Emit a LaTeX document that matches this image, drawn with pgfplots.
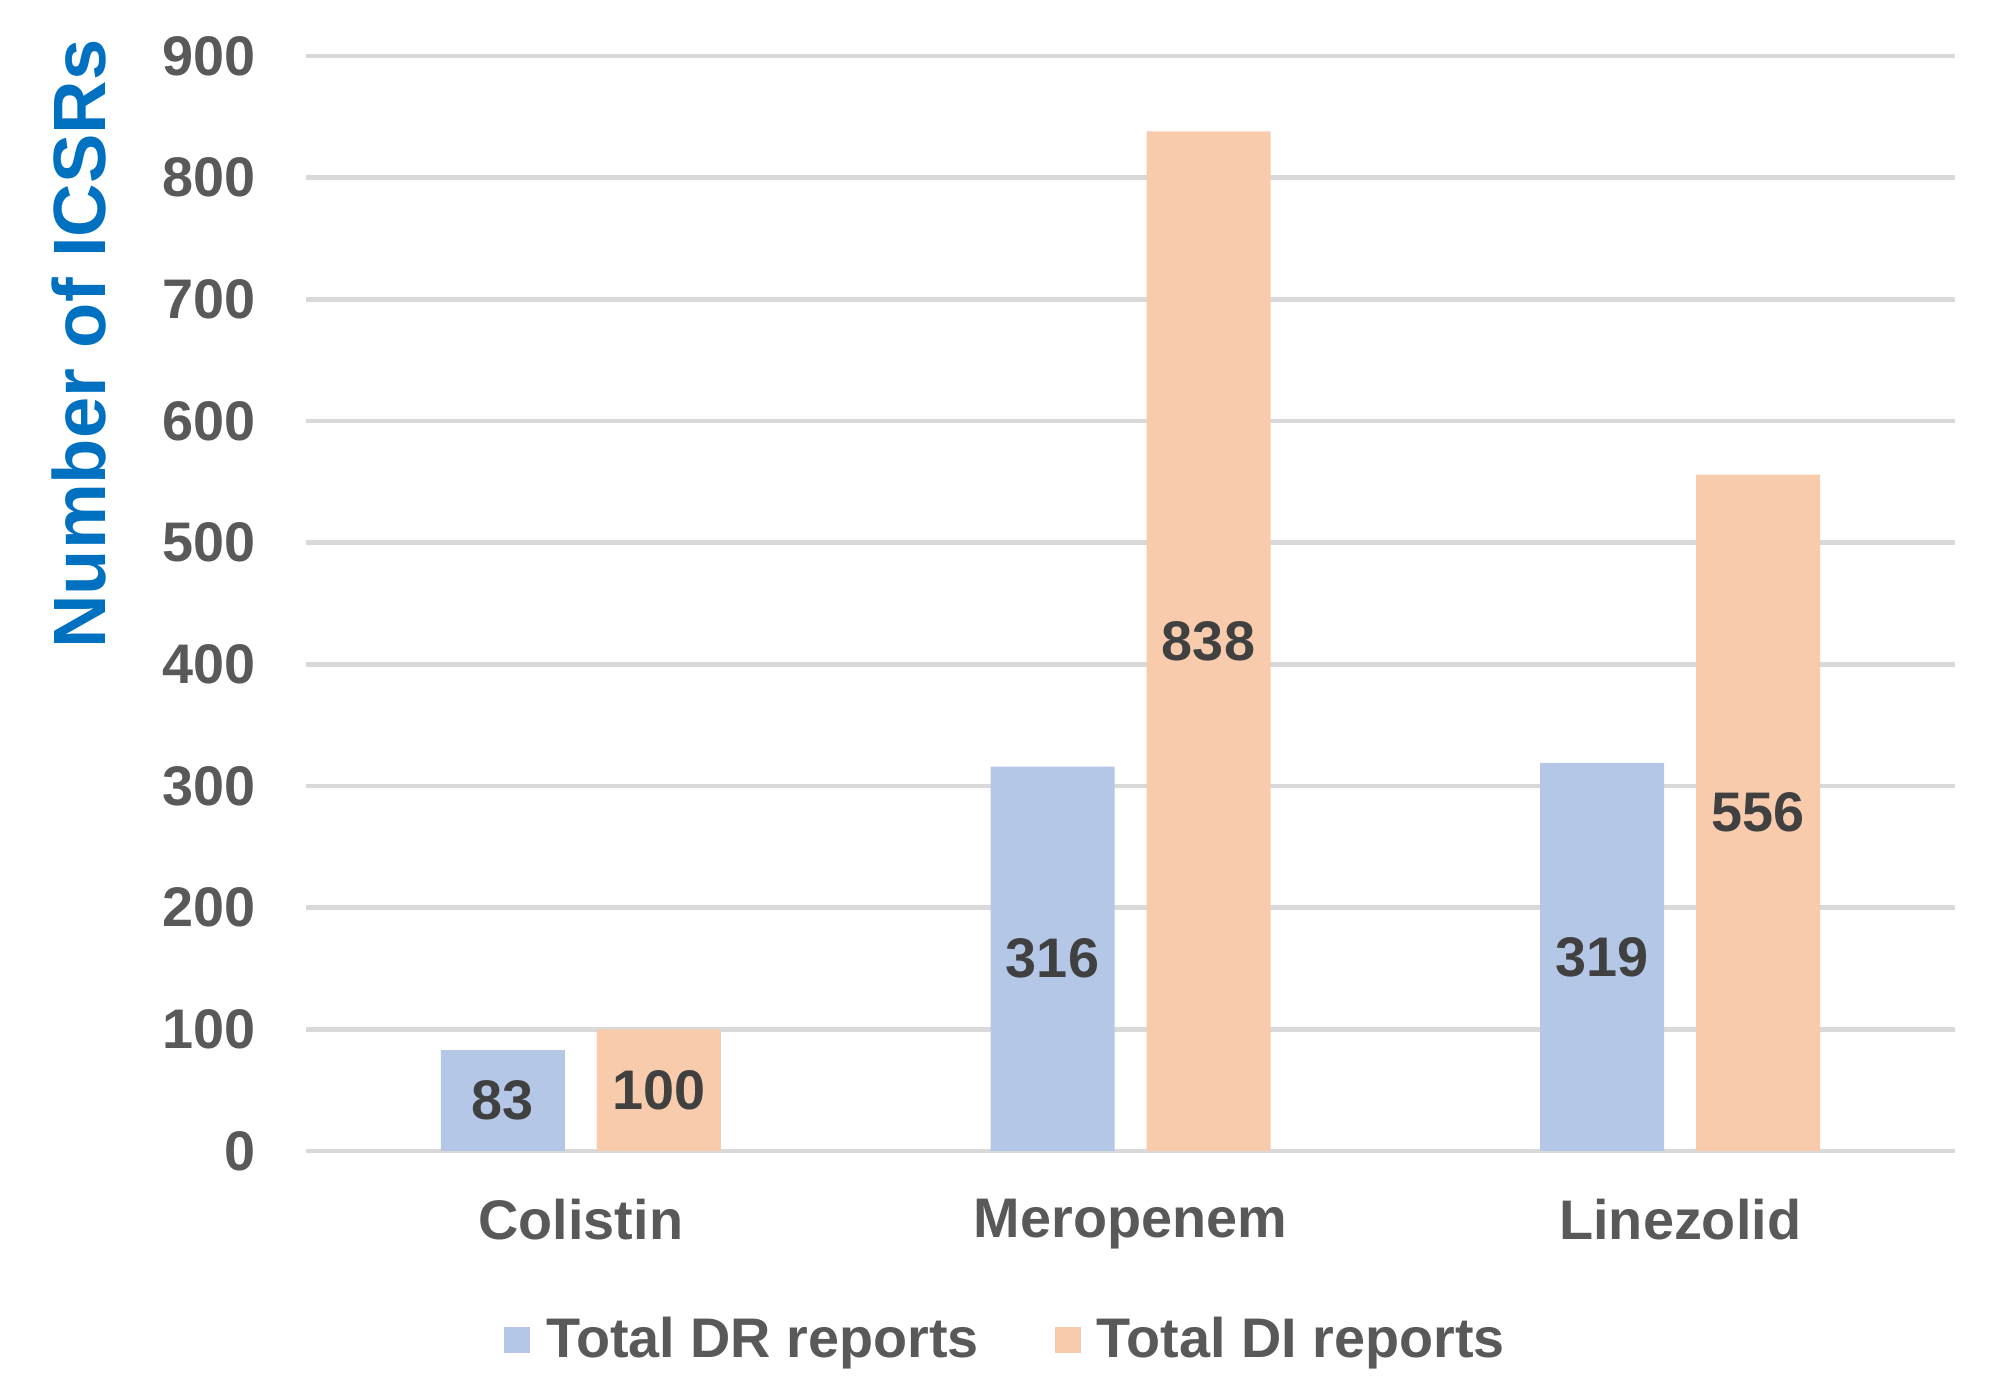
\documentclass[border=0pt]{standalone}
\usepackage{pgfplots}
\pgfplotsset{compat=1.18}
\usepackage{pgfplotstable}
\usepackage{fontspec}
\setmainfont{Liberation Sans}
\definecolor{drc}{HTML}{B4C7E7}
\definecolor{dic}{HTML}{F8CBAD}
\definecolor{tickc}{HTML}{595959}
\definecolor{labc}{HTML}{404040}
\definecolor{gridc}{HTML}{D9D9D9}
\definecolor{ylabc}{HTML}{0070C0}
\pgfplotstableread{
cat dr di
Colistin 83 100
Meropenem 316 838
Linezolid 319 556
}\data
\begin{document}
\begin{tikzpicture}
\useasboundingbox (0,0) rectangle (499.25bp,346.5bp);
\begin{axis}[
  at={(76.5bp,58.75bp)}, anchor=south west,
  scale only axis, width=412.25bp, height=273.75bp,
  xmin=-0.5, xmax=2.5, ymin=0, ymax=900,
  ytick={0,100,...,900},
  xtick={0,1,2}, xticklabels={Colistin,Meropenem,Linezolid},
  axis line style={draw=none},
  major tick length=0pt,
  ymajorgrids, grid style={gridc, line width=1.2bp},
  /pgf/number format/assume math mode=true,
  ticklabel style={font=\fontsize{14}{16}\selectfont\bfseries, text=tickc},
  yticklabel style={xshift=-9bp},
  xticklabel style={yshift=-8.6bp},
  ylabel={Number of ICSRs},
  ylabel style={at={(axis description cs:-0.1378,0.737)}, anchor=center,
    font=\fontsize{18.6}{20}\selectfont\bfseries, text=ylabc},
  legend columns=2,
  legend style={at={(0.4285,-0.1726)}, anchor=center, draw=none,
    font=\fontsize{14}{16}\selectfont\bfseries, text=tickc,
    /tikz/every even column/.append style={column sep=15bp},
    nodes={inner xsep=4bp}},
  legend image code/.code={\fill[#1,draw=none] (0bp,-3.2bp) rectangle (6.4bp,3.2bp);},
  every node near coord/.append style={anchor=center, text=labc,
    font=\fontsize{14}{16}\selectfont\bfseries},
]
\addplot[ybar, bar width=31bp, bar shift=-19.5bp, fill=drc, draw=none]
  table[x expr=\coordindex, y=dr]{\data};
\addlegendentry{Total DR reports}
\addplot[ybar, bar width=31bp, bar shift=19.5bp, fill=dic, draw=none]
  table[x expr=\coordindex, y=di]{\data};
\addlegendentry{Total DI reports}
\addplot[draw=none, mark=none, forget plot, nodes near coords, point meta=explicit symbolic,
  every node near coord/.append style={xshift=-19.5bp}]
  table[x expr=\coordindex, y expr=\thisrow{dr}/2, meta=dr]{\data};
\addplot[draw=none, mark=none, forget plot, nodes near coords, point meta=explicit symbolic,
  every node near coord/.append style={xshift=19.5bp}]
  table[x expr=\coordindex, y expr=\thisrow{di}/2, meta=di]{\data};
\end{axis}
\end{tikzpicture}
\end{document}
